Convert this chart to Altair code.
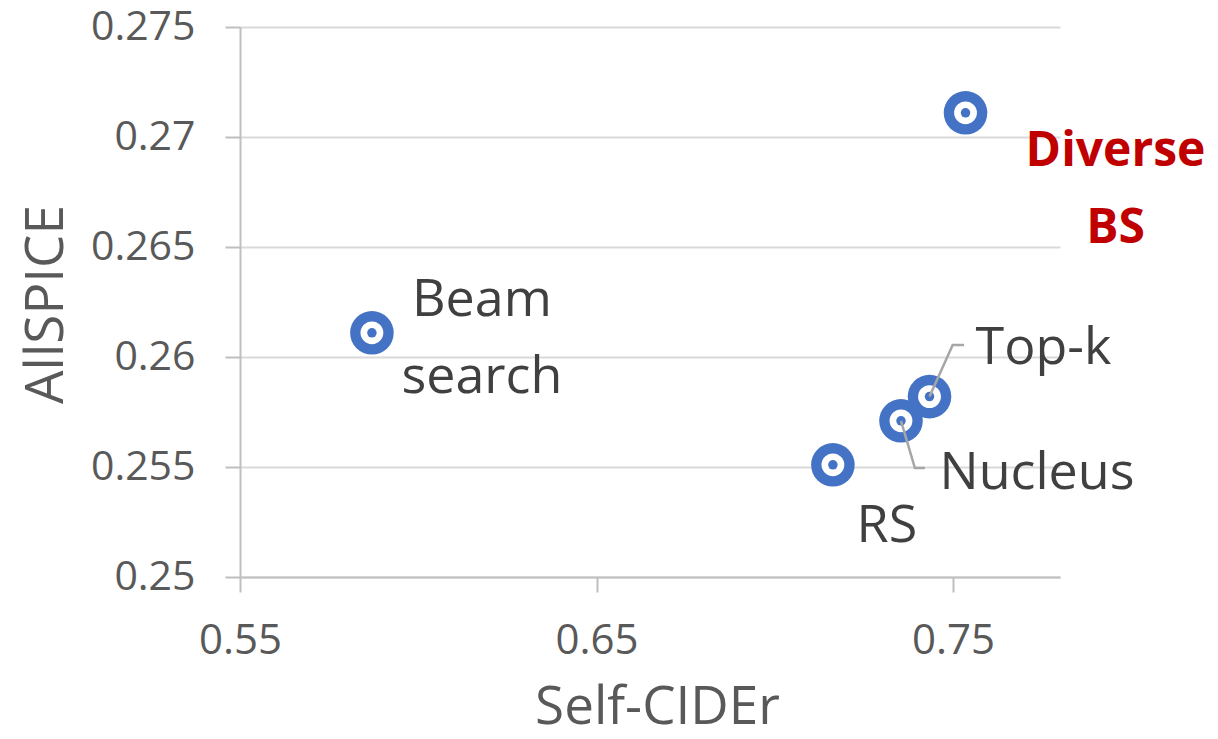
import altair as alt
import pandas as pd

# ---- data ----
methods = ["Beam search", "Diverse BS", "Top-k", "Nucleus", "RS"]
self_cider = [0.587, 0.7535, 0.7434, 0.7354, 0.7163]
allspice = [0.2611, 0.2711, 0.2582, 0.2571, 0.2551]
label_text = ["Beam\nsearch", "Diverse\nBS", "Top-k", "Nucleus", "RS"]

x_ticks = [0.55, 0.65, 0.75]
y_ticks = [0.25, 0.255, 0.26, 0.265, 0.27, 0.275]

# leader lines (data space): Top-k and Nucleus
leader_method = ["Top-k", "Top-k", "Top-k", "Nucleus", "Nucleus", "Nucleus"]
leader_order = [0, 1, 2, 0, 1, 2]
leader_x = [0.7434, 0.7499, 0.7531, 0.7354, 0.7393, 0.7421]
leader_y = [0.2582, 0.26055, 0.26055, 0.2571, 0.25495, 0.25495]

# ---- styles ----
BLUE = "#4472C4"
RED = "#C00000"
TXT = "#404040"
AX = "#595959"
FONT = "Open Sans"

label_style = {
    "Beam search": dict(dx=110, dy=-33, color=TXT, fontWeight="normal", size=52),
    "Diverse BS": dict(dx=150, dy=39, color=RED, fontWeight="bold", size=48),
    "Top-k": dict(dx=114, dy=-49, color=TXT, fontWeight="normal", size=52),
    "Nucleus": dict(dx=136, dy=52, color=TXT, fontWeight="normal", size=52),
    "RS": dict(dx=54, dy=61, color=TXT, fontWeight="normal", size=52),
}

df = pd.DataFrame({"method": methods, "x": self_cider, "y": allspice, "label": label_text})
lead = pd.DataFrame({"method": leader_method, "o": leader_order, "x": leader_x, "y": leader_y})

xscale = alt.Scale(domain=[0.55, 0.78], nice=False, zero=False)
yscale = alt.Scale(domain=[0.25, 0.275], nice=False, zero=False)

xaxis = alt.Axis(
    values=x_ticks, title="Self-CIDEr", grid=False, labelFlush=False,
    domainColor="#BFBFBF", domainWidth=2, tickColor="#BFBFBF", tickWidth=2, tickSize=15,
    labelFont=FONT, labelFontSize=42, labelColor=AX, labelPadding=28,
    titleFont=FONT, titleFontSize=53, titleFontWeight="normal", titleColor=AX,
    titleX=417, titleY=146, titleBaseline="alphabetic",
    labelExpr="'' + datum.value",
)
yaxis = alt.Axis(
    values=y_ticks, title="AllSPICE", grid=True, gridColor="#D9D9D9", gridWidth=2,
    labelFlush=False,
    domainColor="#BFBFBF", domainWidth=2, tickColor="#BFBFBF", tickWidth=2, tickSize=15,
    labelFont=FONT, labelFontSize=41, labelColor=AX, labelPadding=30,
    titleFont=FONT, titleFontSize=53, titleFontWeight="normal", titleColor=AX,
    titleX=-194, titleY=277, titleBaseline="middle", titleAngle=-90,
    labelExpr="'' + datum.value",
)

base = alt.Chart(df).encode(
    x=alt.X("x:Q", scale=xscale, axis=xaxis),
    y=alt.Y("y:Q", scale=yscale, axis=yaxis),
)

outer = base.mark_circle(size=1900, color=BLUE, opacity=1)
inner = base.mark_circle(size=520, color="white", opacity=1)
dot = base.mark_circle(size=90, color=BLUE, opacity=1)

leaders = alt.Chart(lead).mark_line(color="#A6A6A6", strokeWidth=2.5).encode(
    x=alt.X("x:Q", scale=xscale),
    y=alt.Y("y:Q", scale=yscale),
    detail="method:N",
    order="o:Q",
)

texts = []
for m in methods:
    st = label_style[m]
    texts.append(
        alt.Chart(df).transform_filter(alt.datum.method == m).mark_text(
            font=FONT, fontSize=st["size"], align="center", baseline="middle",
            lineBreak="\n", lineHeight=77,
            dx=st["dx"], dy=st["dy"], color=st["color"], fontWeight=st["fontWeight"],
        ).encode(
            x=alt.X("x:Q", scale=xscale),
            y=alt.Y("y:Q", scale=yscale),
            text="label:N",
        )
    )

chart = alt.layer(outer, inner, dot, leaders, *texts).properties(
    width=820, height=550,
    autosize=alt.AutoSizeParams(type="none"),
    padding={"left": 232, "top": 19, "right": 150, "bottom": 154},
).configure_view(stroke=None)

chart.save("out.html", embed_options={"renderer": "svg", "actions": False})
